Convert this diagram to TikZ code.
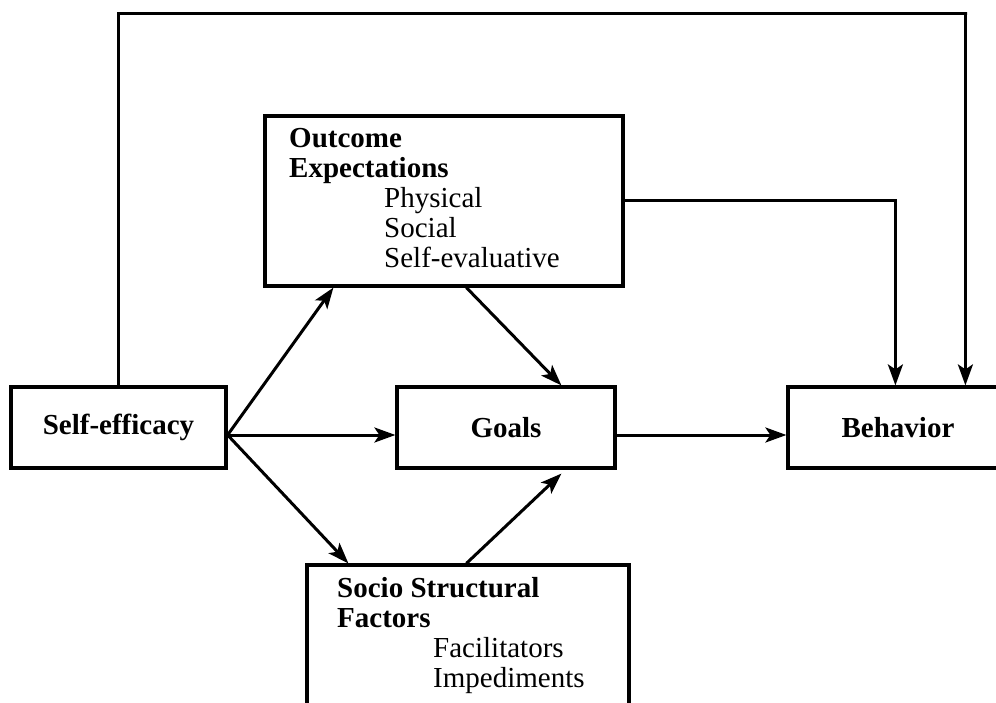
\documentclass[tikz,border=0pt]{standalone}
\usepackage{fontspec}
\setmainfont{Liberation Serif}
\usepackage{tikz}
\usetikzlibrary{arrows.meta}

\begin{document}
\begin{tikzpicture}[x=1pt,y=-1pt]

\tikzset{box/.style = {shape=rectangle,draw,line width=3.2pt,inner sep=0pt}}
\tikzset{lbl/.style = {font=\fontsize{29}{30}\selectfont,inner sep=0pt,align=left,anchor=north west}}
\tikzset{edge/.style = {-{Stealth[length=21pt,width=15pt,inset=5pt]},line width=3pt}}
\clip (0,0) rectangle (996,703);
% vertices
\node[box,minimum width=215pt,minimum height=81pt] (self) at (118.5,427.5) {\fontsize{29}{30}\selectfont\bfseries Self-efficacy};
\node[box,minimum width=218pt,minimum height=81pt] (goals) at (506,427.5) {\fontsize{29}{30}\selectfont\bfseries Goals};
\node[box,minimum width=220pt,minimum height=81pt] (behavior) at (898,427.5) {\fontsize{29}{30}\selectfont\bfseries Behavior};
\node[box,minimum width=358pt,minimum height=170pt] (outcome) at (444,201) {};
\node[box,minimum width=322pt,minimum height=180pt] (socio) at (468,655) {};
\node[lbl] (outcometext) at (289,128) {\textbf{Outcome}\\\textbf{Expectations}\\\hspace*{95pt}Physical\\\hspace*{95pt}Social\\\hspace*{95pt}Self-evaluative};
\node[lbl] (sociotext) at (337,577) {\textbf{Socio Structural}\\\textbf{Factors}\\\hspace*{96pt}Facilitators\\\hspace*{96pt}Impediments};
\coordinate (fork) at ([yshift=-7.5pt]self.east);
\coordinate (top) at (967,14);
%edges
\draw[edge] (fork) to ([xshift=70pt]outcome.south west);
\draw[edge] (fork) to ([yshift=-7.5pt]goals.west);
\draw[edge] (fork) to ([xshift=43pt]socio.north west);
\draw[edge] ([xshift=203pt]outcome.south west) to ([xshift=166pt]goals.north west);
\draw[edge] ([xshift=161pt]socio.north west) to ([xshift=166pt,yshift=-4pt]goals.south west);
\draw[edge] ([yshift=-7.5pt]goals.east) to ([yshift=-7.5pt]behavior.west);
\draw[edge] (outcome.east) -| ([xshift=109pt]behavior.north west);
\draw[edge] (self.north) |- (top) -| ([xshift=179pt]behavior.north west);
\end{tikzpicture}
\end{document}
